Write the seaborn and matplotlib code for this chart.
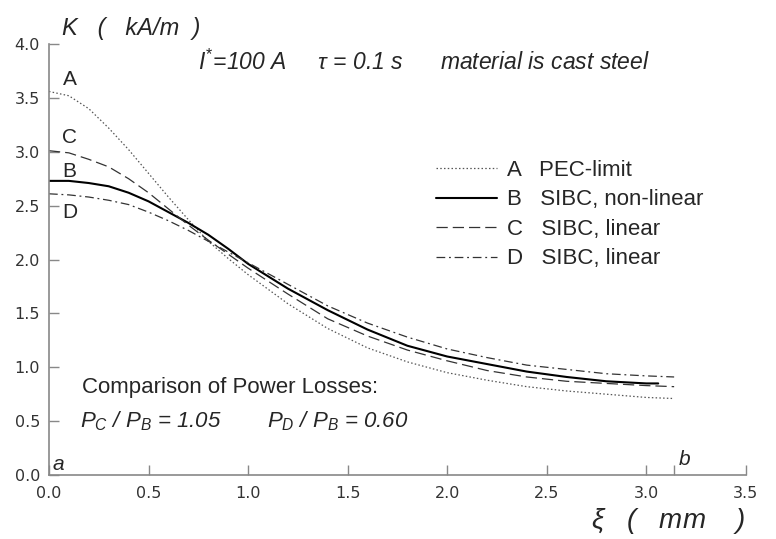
"""
Surface current density K along the boundary a-b
"""

import matplotlib
matplotlib.use('Agg')
import matplotlib.pyplot as plt
import seaborn as sns
import pandas as pd

# data
xi_A = [0, 0.1, 0.2, 0.3, 0.4, 0.5, 0.6, 0.7, 0.8, 0.9, 1.0, 1.2, 1.4, 1.6, 1.8, 2.0, 2.2, 2.4, 2.6, 2.8, 3.0, 3.14]
k_A = [3.56, 3.52, 3.40, 3.22, 3.02, 2.80, 2.58, 2.37, 2.17, 2.01, 1.86, 1.59, 1.36, 1.18, 1.05, 0.95, 0.88, 0.82, 0.78, 0.75, 0.72, 0.71]

xi_B = [0, 0.1, 0.2, 0.3, 0.4, 0.5, 0.6, 0.7, 0.8, 0.9, 1.0, 1.2, 1.4, 1.6, 1.8, 2.0, 2.2, 2.4, 2.6, 2.8, 3.0, 3.06]
k_B = [2.73, 2.73, 2.71, 2.68, 2.62, 2.54, 2.44, 2.34, 2.23, 2.10, 1.96, 1.73, 1.53, 1.35, 1.20, 1.10, 1.03, 0.96, 0.91, 0.87, 0.85, 0.85]

xi_C = [0, 0.1, 0.2, 0.3, 0.4, 0.5, 0.6, 0.7, 0.8, 0.9, 1.0, 1.2, 1.4, 1.6, 1.8, 2.0, 2.2, 2.4, 2.6, 2.8, 3.0, 3.14]
k_C = [3.01, 2.99, 2.93, 2.86, 2.75, 2.62, 2.47, 2.32, 2.18, 2.05, 1.92, 1.68, 1.45, 1.29, 1.16, 1.06, 0.97, 0.91, 0.87, 0.85, 0.83, 0.82]

xi_D = [0, 0.1, 0.2, 0.3, 0.4, 0.5, 0.6, 0.7, 0.8, 0.9, 1.0, 1.2, 1.4, 1.6, 1.8, 2.0, 2.2, 2.4, 2.6, 2.8, 3.0, 3.14]
k_D = [2.61, 2.60, 2.58, 2.55, 2.51, 2.44, 2.36, 2.27, 2.17, 2.07, 1.97, 1.77, 1.57, 1.41, 1.28, 1.17, 1.09, 1.02, 0.98, 0.94, 0.92, 0.91]

legend_labels = ['A   PEC-limit', 'B   SIBC, non-linear', 'C   SIBC, linear', 'D   SIBC, linear']
x_ticks = [0.0, 0.5, 1.0, 1.5, 2.0, 2.5, 3.0, 3.5]
y_ticks = [0.0, 0.5, 1.0, 1.5, 2.0, 2.5, 3.0, 3.5, 4.0]
xi_b = 3.14

sns.set_theme(style='ticks')
plt.rcParams['font.family'] = ['Liberation Sans', 'DejaVu Sans']
plt.rcParams['mathtext.fontset'] = 'custom'
plt.rcParams['mathtext.rm'] = 'Liberation Sans'
plt.rcParams['mathtext.it'] = 'Liberation Sans:italic'

fig = plt.figure(figsize=(7.76, 5.39), dpi=100)
ax = fig.add_axes([0.0631, 0.1187, 0.898, 0.7996])

styles = [
    dict(color='#555555', lw=0.9, dashes=(1.2, 1.8)),
    dict(color='black', lw=1.5, dashes=()),
    dict(color='#333333', lw=0.9, dashes=(9, 4)),
    dict(color='#333333', lw=0.9, dashes=(7, 3, 1.5, 3)),
]
series = [(xi_A, k_A), (xi_B, k_B), (xi_C, k_C), (xi_D, k_D)]
for (xs, ks), lab, st in zip(series, legend_labels, styles):
    df = pd.DataFrame({'xi': xs, 'K': ks})
    sns.lineplot(data=df, x='xi', y='K', ax=ax, label=lab,
                 color=st['color'], linewidth=st['lw'])
    if st['dashes']:
        ax.lines[-1].set_dashes(st['dashes'])

ax.set_xlim(0, 3.5)
ax.set_ylim(0, 4.0)
ax.set_xticks(x_ticks)
ax.set_yticks(y_ticks)
ax.set_xticklabels([f'{t:.1f}' for t in x_ticks], family='DejaVu Sans')
ax.set_yticklabels([f'{t:.1f}' for t in y_ticks], family='DejaVu Sans')
ax.set_xticks([xi_b], minor=True)
ax.tick_params(axis='both', which='both', direction='in', length=7, width=1,
               color='#888888', labelsize=11.5, labelcolor='#333333')
ax.tick_params(axis='x', pad=8)
ax.tick_params(axis='y', pad=6.5)
sns.despine(ax=ax)
for side in ['left', 'bottom']:
    ax.spines[side].set_color('#888888')
    ax.spines[side].set_linewidth(1.2)
ax.set_xlabel('')
ax.set_ylabel('')

ax.legend(loc='upper left', bbox_to_anchor=(0.555, 0.731), frameon=False,
          handlelength=2.75, handletextpad=0.45, labelspacing=0.38,
          borderpad=0, borderaxespad=0, fontsize=16)

# axis titles
fig.text(62 / 776, 1 - 35 / 539, 'K   (   kA/m  )', fontsize=17, style='italic',
         va='baseline', ha='left')
fig.text(746 / 776, 1 - 528 / 539, r'$\xi$   (   mm    )', fontsize=20, style='italic',
         va='baseline', ha='right')

# curve markers
for lab, y in zip(['A', 'C', 'B', 'D'], [3.67, 3.13, 2.82, 2.44]):
    ax.text(0.103, y, lab, fontsize=15, ha='center', va='center')

ax.text(0.75, 3.83, r'$I^{*}$=100 A     $\tau$ = 0.1 s      material is cast steel',
        fontsize=16.5, style='italic', va='center')
ax.text(0.166, 0.81, 'Comparison of Power Losses:', fontsize=16, va='center')
ax.text(0.156, 0.5, r'$P_C$ / $P_B$ = 1.05', fontsize=16, style='italic', va='center')
ax.text(1.095, 0.5, r'$P_D$ / $P_B$ = 0.60', fontsize=16, style='italic', va='center')
ax.text(0.045, 0.10, 'a', fontsize=15, style='italic', ha='center', va='center')
ax.text(3.19, 0.14, 'b', fontsize=15, style='italic', ha='center', va='center')

fig.savefig('out.png', dpi=100)
plt.close(fig)
